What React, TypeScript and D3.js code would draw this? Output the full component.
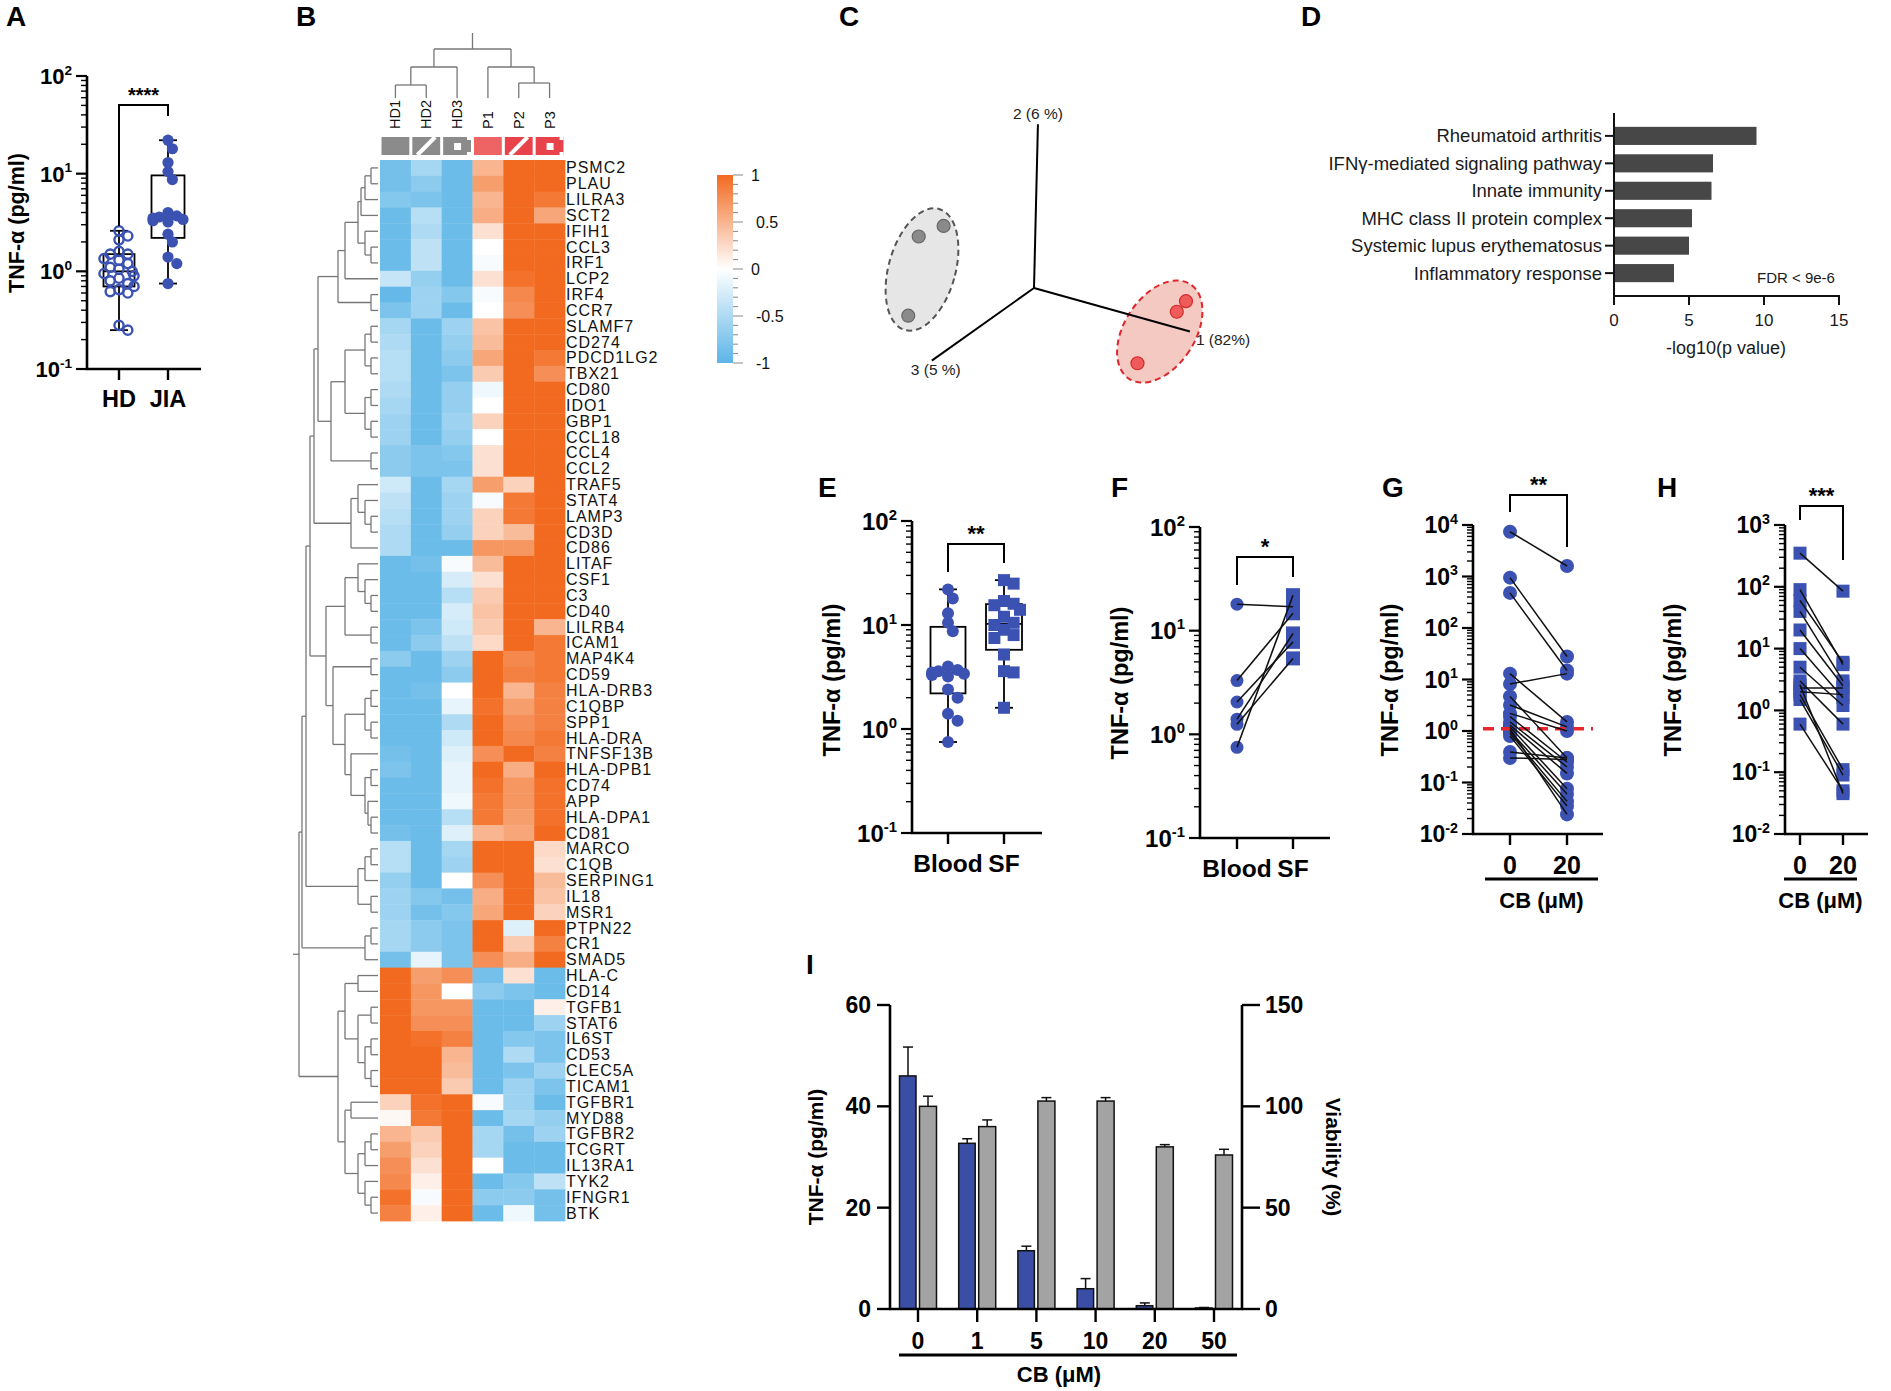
import React from "react";
import * as d3 from "d3";

const FONT = "'Liberation Sans', Arial, Helvetica, sans-serif";
const BLUE = "#3b52b3";

// ---------- A / E : TNF-a levels ----------
const groupsA = ["HD", "JIA"];
const hdValues = [2.6, 2.3, 2.1, 1.6, 1.5, 1.5, 1.35, 1.3, 1.2, 1.1, 1.05, 1.0, 0.95, 0.9, 0.85, 0.8, 0.75, 0.7, 0.65, 0.62, 0.6, 0.28, 0.25];
const jiaValues = [22, 18, 13, 10.5, 8.7, 4.0, 3.7, 3.6, 3.5, 3.4, 3.3, 3.2, 2.4, 2.0, 1.4, 1.2, 0.75];
const groupsE = ["Blood", "SF"];
const bloodValues = [22, 18, 13, 10.5, 8.7, 4.0, 3.7, 3.6, 3.5, 3.4, 3.3, 3.2, 2.4, 2.0, 1.4, 1.2, 0.75];
const sfValues = [27, 25, 17, 16, 15.5, 14, 12, 10.5, 10, 9, 8, 7.5, 5.2, 3.6, 3.5, 1.6];

// ---------- F : paired blood / SF ----------
const pairedBlood = [18, 3.3, 2.05, 1.4, 1.25, 0.75];
const pairedSF = [17, 14.7, 7.8, 9.4, 5.4, 22];

// ---------- G / H : CB 0 vs 20 uM ----------
const doseGroups = ["0", "20"];
const g0 = [7400, 950, 480, 8.2, 13, 3.2, 4.7, 1.9, 1.5, 1.3, 1.2, 1.0, 0.9, 0.8, 1.1, 0.39, 0.3, 2.2];
const g20 = [1600, 28, 15, 13, 1.5, 1.2, 0.3, 0.25, 0.2, 0.15, 0.076, 0.06, 0.043, 0.035, 0.024, 0.3, 0.28, 1.0];
const gThreshold = 1.1;
const h0 = [350, 90, 60, 40, 20, 10, 5, 3, 2.3, 2, 1.8, 1.5, 0.6, 2.6];
const h20 = [85, 5.5, 6, 3, 2.5, 1.6, 1.2, 0.6, 2.3, 1.8, 0.11, 0.09, 0.05, 0.045];

// ---------- I : dose response ----------
const doses = ["0", "1", "5", "10", "20", "50"];
const tnfMean = [46, 32.7, 11.5, 4.0, 0.65, 0.2];
const tnfSem = [5.7, 0.9, 0.9, 2.0, 0.55, 0.1];
const viabMean = [100, 90, 102.6, 102.6, 80, 76];
const viabSem = [5, 3.3, 1.7, 1.7, 1.1, 2.8];

// ---------- D : enrichment ----------
const terms = ["Rheumatoid arthritis", "IFNγ-mediated signaling pathway", "Innate immunity", "MHC class II protein complex", "Systemic lupus erythematosus", "Inflammatory response"];
const termValues = [9.5, 6.6, 6.5, 5.2, 5.0, 4.0];

// ---------- B : heatmap ----------
const samples = ["HD1", "HD2", "HD3", "P1", "P2", "P3"];
const genes = ["PSMC2", "PLAU", "LILRA3", "SCT2", "IFIH1", "CCL3", "IRF1", "LCP2", "IRF4", "CCR7", "SLAMF7", "CD274", "PDCD1LG2", "TBX21", "CD80", "IDO1", "GBP1", "CCL18", "CCL4", "CCL2", "TRAF5", "STAT4", "LAMP3", "CD3D", "CD86", "LITAF", "CSF1", "C3", "CD40", "LILRB4", "ICAM1", "MAP4K4", "CD59", "HLA-DRB3", "C1QBP", "SPP1", "HLA-DRA", "TNFSF13B", "HLA-DPB1", "CD74", "APP", "HLA-DPA1", "CD81", "MARCO", "C1QB", "SERPING1", "IL18", "MSR1", "PTPN22", "CR1", "SMAD5", "HLA-C", "CD14", "TGFB1", "STAT6", "IL6ST", "CD53", "CLEC5A", "TICAM1", "TGFBR1", "MYD88", "TGFBR2", "TCGRT", "IL13RA1", "TYK2", "IFNGR1", "BTK"];
const heatValues = [
  [-0.85, -0.55, -0.9, 0.5, 1, 1],
  [-0.85, -0.7, -0.9, 0.65, 1, 1],
  [-0.75, -0.8, -0.9, 0.5, 1, 0.9],
  [-0.9, -0.45, -0.9, 0.55, 1, 0.6],
  [-0.9, -0.5, -0.9, 0.2, 1, 1],
  [-0.9, -0.4, -0.9, 0.0, 1, 1],
  [-0.9, -0.4, -0.9, -0.05, 1, 1],
  [-0.35, -0.65, -0.9, 0.2, 0.95, 1],
  [-0.95, -0.6, -0.75, -0.05, 0.8, 1],
  [-0.8, -0.6, -0.9, 0.0, 0.75, 1],
  [-0.55, -0.9, -0.6, 0.4, 1, 1],
  [-0.5, -0.9, -0.65, 0.45, 1, 1],
  [-0.45, -0.9, -0.7, 0.6, 1, 0.9],
  [-0.45, -0.9, -0.8, 0.35, 1, 0.75],
  [-0.5, -0.9, -0.65, -0.1, 1, 1],
  [-0.55, -0.9, -0.65, 0.0, 1, 1],
  [-0.6, -0.9, -0.6, 0.3, 1, 1],
  [-0.6, -0.9, -0.65, 0.0, 1, 1],
  [-0.7, -0.8, -0.75, 0.2, 1, 1],
  [-0.7, -0.8, -0.8, 0.2, 1, 1],
  [-0.3, -0.9, -0.55, 0.65, 0.3, 1],
  [-0.4, -0.9, -0.6, -0.05, 0.9, 1],
  [-0.45, -0.9, -0.6, 0.3, 0.9, 1],
  [-0.5, -0.9, -0.65, 0.3, 0.45, 1],
  [-0.5, -0.9, -0.9, 0.7, 0.7, 1],
  [-0.9, -0.85, -0.05, 0.45, 1, 1],
  [-0.9, -0.9, -0.25, 0.2, 1, 1],
  [-0.9, -0.9, -0.45, 0.35, 1, 1],
  [-0.9, -0.9, -0.25, 0.4, 1, 1],
  [-0.9, -0.8, -0.3, 0.35, 1, 0.5],
  [-0.9, -0.7, -0.4, 0.25, 1, 0.9],
  [-0.7, -0.9, -0.6, 1, 0.8, 0.9],
  [-0.9, -0.9, -0.7, 1, 0.85, 0.9],
  [-0.9, -0.85, 0.0, 1, 0.5, 0.85],
  [-0.9, -0.9, -0.15, 0.95, 0.65, 0.85],
  [-0.9, -0.9, -0.5, 1, 0.75, 0.85],
  [-0.9, -0.9, -0.3, 1, 0.8, 0.9],
  [-0.85, -0.9, -0.2, 0.75, 1, 0.85],
  [-0.8, -0.9, -0.15, 1, 0.55, 1],
  [-0.9, -0.9, -0.15, 0.95, 0.7, 0.95],
  [-0.9, -0.9, -0.1, 0.9, 0.7, 0.95],
  [-0.9, -0.9, -0.45, 0.9, 0.65, 0.95],
  [-0.85, -0.9, -0.2, 0.5, 0.6, 1],
  [-0.45, -0.9, -0.55, 1, 1, 0.25],
  [-0.45, -0.9, -0.6, 1, 1, 0.2],
  [-0.65, -0.9, 0.0, 0.75, 1, 0.45],
  [-0.6, -0.75, -0.85, 0.55, 1, 0.4],
  [-0.6, -0.85, -0.75, 0.6, 1, 0.3],
  [-0.55, -0.7, -0.8, 1, -0.2, 1],
  [-0.55, -0.7, -0.8, 1, 0.35, 0.85],
  [-0.85, -0.15, -0.8, 0.75, 0.55, 1],
  [1, 0.65, 0.75, -0.85, 0.2, -0.9],
  [1, 0.7, 0.0, -0.7, -0.8, -0.9],
  [1, 0.7, 0.7, -0.9, -0.9, 0.1],
  [1, 0.75, 0.75, -0.9, -0.9, -0.6],
  [1, 0.95, 0.85, -0.9, -0.75, -0.8],
  [1, 1, 0.5, -0.9, -0.5, -0.8],
  [1, 1, 0.45, -0.9, -0.8, -0.6],
  [1, 1, 0.35, -0.9, -0.6, -0.8],
  [0.3, 0.95, 1, -0.05, -0.6, -0.9],
  [0.05, 0.9, 1, -0.9, -0.55, -0.65],
  [0.5, 0.35, 1, -0.55, -0.85, -0.6],
  [0.65, 0.3, 1, -0.55, -0.9, -0.9],
  [0.75, 0.2, 1, 0.0, -0.9, -0.9],
  [0.8, 0.1, 1, -0.9, -0.75, -0.4],
  [0.95, -0.05, 1, -0.7, -0.7, -0.85],
  [0.85, 0.1, 1, -0.9, -0.1, -0.85],
];
// dendrograms: [height, left, right] or leaf name
const sampleTree: any = [49, [31, [13, "HD1", "HD2"], "HD3"], [31, "P1", [15, "P2", "P3"]]];
const geneTree: any = [79,
  [76,
    [72,
      [68,
        [64,
          [60,
            [40, [33, [20, [17, [13, [7, "PSMC2", "PLAU"], "LILRA3"], "SCT2"], [13, "IFIH1", [7, "CCL3", "IRF1"]]], "LCP2"], [7, "IRF4", "CCR7"]],
            [47, [33, [13, [7, "SLAMF7", "CD274"], [7, "PDCD1LG2", "TBX21"]], [13, [7, "CD80", "IDO1"], [7, "GBP1", "CCL18"]]], [7, "CCL4", "CCL2"]]],
          [27, [20, "TRAF5", [13, "STAT4", [7, "LAMP3", "CD3D"]]], "CD86"]],
        [52,
          [33, [20, "LITAF", [13, "CSF1", [7, "C3", "CD40"]]], [7, "LILRB4", "ICAM1"]],
          [45, [7, "MAP4K4", "CD59"], [33, [13, [7, "HLA-DRB3", "C1QBP"], [7, "SPP1", "HLA-DRA"]], [27, "TNFSF13B", [13, [7, "HLA-DPB1", "CD74"], [10, "APP", [7, "HLA-DPA1", "CD81"]]]]]]]],
      [20, [13, [7, "MARCO", "C1QB"], "SERPING1"], [7, "IL18", "MSR1"]]],
    [13, [7, "PTPN22", "CR1"], "SMAD5"]],
  [40,
    [33, [20, "HLA-C", "CD14"], [20, [7, "TGFB1", "STAT6"], [13, [7, "IL6ST", "CD53"], [7, "CLEC5A", "TICAM1"]]]],
    [33, [27, "TGFBR1", "MYD88"], [20, [13, [7, "TGFBR2", "TCGRT"], "IL13RA1"], [13, "TYK2", [7, "IFNGR1", "BTK"]]]]]];
const colorbarTicks = [1, 0.5, 0, -0.5, -1];

// ---------- C : PCA (projected scores) ----------
const pcaAxes = [
  { label: "1 (82%)", end: [1.19, -0.33] },
  { label: "2 (6 %)", end: [0.03, 1.24] },
  { label: "3 (5 %)", end: [-0.78, -0.55] },
];
const hdScores = [[-0.88, 0.39], [-0.69, 0.47], [-0.96, -0.21]];
const pScores = [[1.16, -0.1], [1.09, -0.18], [0.79, -0.57]];

// ---------- helpers ----------
function prismQuartiles(vals: number[]) {
  const s = [...vals].sort((a, b) => a - b);
  const n = s.length;
  const q = (p: number) => {
    const pos = (n + 1) * p - 1;
    const lo = Math.max(0, Math.min(n - 1, Math.floor(pos)));
    const hi = Math.max(0, Math.min(n - 1, Math.ceil(pos)));
    return s[lo] + (s[hi] - s[lo]) * (pos - Math.floor(pos));
  };
  return { min: s[0], q1: q(0.25), med: q(0.5), q3: q(0.75), max: s[n - 1] };
}

function swarm(vals: number[], y: (v: number) => number, cx: number, r: number, maxDx: number) {
  const placed: { x: number; y: number }[] = [];
  const pts = vals.map((v) => y(v)).sort((a, b) => a - b);
  for (const py of pts) {
    const cands = [0];
    for (let k = 1; k < 10; k++) cands.push(k * r * 0.8, -k * r * 0.8);
    let done = false;
    for (const dx of cands) {
      if (Math.abs(dx) > maxDx) continue;
      if (placed.every((q) => Math.hypot(q.x - (cx + dx), q.y - py) >= r * 1.6)) {
        placed.push({ x: cx + dx, y: py });
        done = true;
        break;
      }
    }
    if (!done) placed.push({ x: cx + (placed.length % 2 ? maxDx : -maxDx), y: py });
  }
  return placed;
}

function layoutTree(node: any, leafPos: (n: string) => number, segs: any[]): { pos: number; h: number } {
  if (typeof node === "string") return { pos: leafPos(node), h: 0 };
  const [h, a, b] = node;
  const ca = layoutTree(a, leafPos, segs);
  const cb = layoutTree(b, leafPos, segs);
  segs.push({ kind: "join", h, p1: ca.pos, p2: cb.pos });
  segs.push({ kind: "stem", p: ca.pos, h1: ca.h, h2: h });
  segs.push({ kind: "stem", p: cb.pos, h1: cb.h, h2: h });
  return { pos: (ca.pos + cb.pos) / 2, h };
}

const Letter = ({ x, y, t }: any) => (
  <text x={x} y={y} fontSize={28} fontWeight="bold" fill="#000">{t}</text>
);

function LogAxis({ y, axisX, xEnd, e0, e1, fs }: any) {
  const yb = y(10 ** e0), yt = y(10 ** e1);
  const minor: number[] = [];
  for (let e = e0; e < e1; e++) for (let k = 2; k <= 9; k++) minor.push(k * 10 ** e);
  return (
    <g stroke="#000">
      {minor.map((v, i) => (
        <line key={"m" + i} x1={axisX - 6} x2={axisX} y1={y(v)} y2={y(v)} strokeWidth={1.4} />
      ))}
      {d3.range(e0, e1 + 1).map((e) => (
        <g key={"M" + e}>
          <line x1={axisX - 11} x2={axisX} y1={y(10 ** e)} y2={y(10 ** e)} strokeWidth={2.2} />
          <text x={axisX - 15} y={y(10 ** e) + fs * 0.36} textAnchor="end" fontSize={fs} fontWeight="bold" stroke="none" fill="#000">
            10<tspan fontSize={fs * 0.62} dy={-fs * 0.42}>{e}</tspan>
          </text>
        </g>
      ))}
      <line x1={axisX} x2={axisX} y1={yb + 1} y2={yt} strokeWidth={2.6} />
      <line x1={axisX - 1} x2={xEnd} y1={yb} y2={yb} strokeWidth={2.6} />
    </g>
  );
}

function XCats({ x, cats, yb, fs, labelY }: any) {
  return (
    <g>
      {cats.map((c: string) => (
        <g key={c}>
          <line x1={x(c)} x2={x(c)} y1={yb} y2={yb + 11} stroke="#000" strokeWidth={2.4} />
          <text x={x(c)} y={labelY} textAnchor="middle" dominantBaseline="central" fontSize={fs} fontWeight="bold">{c}</text>
        </g>
      ))}
    </g>
  );
}

function YLabel({ x, y, t, fs, rot = -90 }: any) {
  return (
    <text transform={`translate(${x},${y}) rotate(${rot})`} textAnchor="middle" dominantBaseline="central" fontSize={fs} fontWeight="bold">{t}</text>
  );
}

function Bracket({ x1, x2, top, yl, yr, label, fs = 21 }: any) {
  return (
    <g>
      <path d={`M${x1},${yl}V${top}H${x2}V${yr}`} fill="none" stroke="#000" strokeWidth={2} />
      <text x={(x1 + x2) / 2} y={top - 3} textAnchor="middle" fontSize={fs} fontWeight="bold">{label}</text>
    </g>
  );
}

function BoxPlot({ vals, y, cx, w }: any) {
  const b = prismQuartiles(vals);
  return (
    <g fill="none" stroke="#000" strokeWidth={1.8}>
      <line x1={cx} x2={cx} y1={y(b.max)} y2={y(b.q3)} />
      <line x1={cx} x2={cx} y1={y(b.q1)} y2={y(b.min)} />
      <line x1={cx - 9} x2={cx + 9} y1={y(b.max)} y2={y(b.max)} />
      <line x1={cx - 9} x2={cx + 9} y1={y(b.min)} y2={y(b.min)} />
      <rect x={cx - w / 2} y={y(b.q3)} width={w} height={y(b.q1) - y(b.q3)} />
      <line x1={cx - w / 2} x2={cx + w / 2} y1={y(b.med)} y2={y(b.med)} />
    </g>
  );
}

// ---------- panels ----------
function PanelA() {
  const y = d3.scaleLog().domain([0.1, 100]).range([369, 76]);
  const x = d3.scalePoint().domain(groupsA).range([119, 168]);
  const hd = swarm(hdValues, y, x("HD")!, 5.5, 15);
  const jia = swarm(jiaValues, y, x("JIA")!, 5.5, 15);
  return (
    <g>
      <Letter x={6} y={26} t="A" />
      <BoxPlot vals={hdValues} y={y} cx={x("HD")} w={31} />
      <BoxPlot vals={jiaValues} y={y} cx={x("JIA")} w={33} />
      {hd.map((p, i) => <circle key={i} cx={p.x} cy={p.y} r={4.6} fill="none" stroke={BLUE} strokeWidth={2.4} />)}
      {jia.map((p, i) => <circle key={i} cx={p.x} cy={p.y} r={5.6} fill={BLUE} />)}
      <LogAxis y={y} axisX={87} xEnd={201} e0={-1} e1={2} fs={22} />
      <XCats x={x} cats={groupsA} yb={369} fs={23.5} labelY={399} />
      <YLabel x={17} y={223} t="TNF-α (pg/ml)" fs={21.5} />
      <Bracket x1={x("HD")} x2={x("JIA")} top={105} yl={226} yr={116} label="****" fs={20} />
    </g>
  );
}

function PanelB() {
  const xb = d3.scaleBand().domain(samples).range([380, 565]);
  const yb = d3.scaleBand().domain(genes).range([160, 1221]);
  const color = d3.scaleLinear<string>().domain([-1, 0, 1]).range(["#5cb5e7", "#ffffff", "#f26a1f"]).clamp(true);
  const rowSegs: any[] = [];
  const rowRoot = layoutTree(geneTree, (g) => yb(g)! + yb.bandwidth() / 2, rowSegs);
  const hx = d3.scaleLinear().domain([0, 85]).range([378, 293]);
  const colSegs: any[] = [];
  const colRoot = layoutTree(sampleTree, (s) => xb(s)! + xb.bandwidth() / 2, colSegs);
  const hy = d3.scaleLinear().domain([0, 65]).range([98, 33]);
  const annColors = ["#8b8b8b", "#8b8b8b", "#8b8b8b", "#ee6363", "#e8434b", "#e8434b"];
  const cb = d3.scaleLinear().domain([-1, 1]).range([363, 175]);
  return (
    <g>
      <Letter x={296} y={26} t="B" />
      {/* column dendrogram */}
      <g stroke="#777" strokeWidth={1.3} fill="none">
        {colSegs.map((s, i) =>
          s.kind === "join" ? (
            <line key={i} x1={s.p1} x2={s.p2} y1={hy(s.h)} y2={hy(s.h)} />
          ) : (
            <line key={i} x1={s.p} x2={s.p} y1={hy(s.h1)} y2={hy(s.h2)} />
          )
        )}
        <line x1={colRoot.pos} x2={colRoot.pos} y1={hy(colRoot.h)} y2={hy(65)} />
      </g>
      {samples.map((s) => (
        <text key={s} transform={`translate(${xb(s)! + xb.bandwidth() / 2},129) rotate(-90)`} dominantBaseline="central" fontSize={14.5} fill="#111">{s}</text>
      ))}
      {/* annotation bar */}
      {samples.map((s, i) => {
        const x0 = xb(s)! + 1.5, w = xb.bandwidth() - 3, y0 = 137, h = 18;
        return (
          <g key={s}>
            <rect x={x0} y={y0} width={w} height={h} fill={annColors[i]} />
            {i % 3 === 1 && <line x1={x0 + 5} y1={y0 + h} x2={x0 + w - 5} y2={y0} stroke="#fff" strokeWidth={4} />}
            {i % 3 === 2 && (
              <g fill="#fff">
                <rect x={x0 + w / 2 - 3} y={y0 + h / 2 - 3} width={7} height={7} />
                <rect x={x0 + w - 4} y={y0} width={4} height={3} />
                <rect x={x0 + w - 4} y={y0 + h - 3} width={4} height={3} />
              </g>
            )}
          </g>
        );
      })}
      {/* heat cells */}
      {genes.map((g, r) =>
        samples.map((s, c) => (
          <rect key={g + s} x={xb(s)} y={yb(g)} width={xb.bandwidth() + 0.4} height={yb.bandwidth() + 0.4} fill={color(heatValues[r][c])} />
        ))
      )}
      {genes.map((g) => (
        <text key={g} x={566} y={yb(g)! + yb.bandwidth() / 2} dominantBaseline="central" fontSize={16} letterSpacing={1} fill="#111">{g}</text>
      ))}
      {/* row dendrogram */}
      <g stroke="#777" strokeWidth={1.3} fill="none">
        {rowSegs.map((s, i) =>
          s.kind === "join" ? (
            <line key={i} x1={hx(s.h)} x2={hx(s.h)} y1={s.p1} y2={s.p2} />
          ) : (
            <line key={i} x1={hx(s.h1)} x2={hx(s.h2)} y1={s.p} y2={s.p} />
          )
        )}
        <line x1={hx(rowRoot.h)} x2={hx(85)} y1={rowRoot.pos} y2={rowRoot.pos} />
      </g>
      {/* colour key */}
      <defs>
        <linearGradient id="cbar" x1="0" y1="1" x2="0" y2="0">
          <stop offset="0%" stopColor={color(-1)} />
          <stop offset="50%" stopColor={color(0)} />
          <stop offset="100%" stopColor={color(1)} />
        </linearGradient>
      </defs>
      <rect x={717} y={175} width={16} height={188} fill="url(#cbar)" />
      {d3.range(-1, 1.0001, 0.1).map((v, i) => (
        <line key={i} x1={733} x2={Math.abs(Math.round(v * 10)) % 5 === 0 ? 743 : 738} y1={cb(v)} y2={cb(v)} stroke="#888" strokeWidth={1} />
      ))}
      {colorbarTicks.map((v) => (
        <text key={v} x={v === 0 || v === 1 ? 751 : 756} y={cb(v)} dominantBaseline="central" fontSize={16} fill="#111">{v}</text>
      ))}
    </g>
  );
}

function PanelC() {
  const px = d3.scaleLinear().domain([-1, 1]).range([903, 1165]);
  const py = d3.scaleLinear().domain([-1, 1]).range([420, 156]);
  const ox = px(0), oy = py(0);
  const ell = (c: number[], a: number, b: number, ang: number, fill: string, stroke: string) => (
    <ellipse cx={px(c[0])} cy={py(c[1])} rx={px(b) - px(0)} ry={px(a) - px(0)} transform={`rotate(${ang},${px(c[0])},${py(c[1])})`} fill={fill} stroke={stroke} strokeWidth={2} strokeDasharray="6,4" />
  );
  return (
    <g>
      <Letter x={839} y={26} t="C" />
      {ell([-0.855, 0.14], 0.48, 0.255, 15.7, "#e6e6e6", "#555")}
      {ell([0.96, -0.33], 0.43, 0.27, 33, "#f4c9c2", "#e0252b")}
      {pcaAxes.map((a) => (
        <line key={a.label} x1={ox} y1={oy} x2={px(a.end[0])} y2={py(a.end[1])} stroke="#000" strokeWidth={2} />
      ))}
      <text x={px(pcaAxes[1].end[0])} y={py(pcaAxes[1].end[1]) - 5} textAnchor="middle" fontSize={15.5} fill="#222">{pcaAxes[1].label}</text>
      <text x={px(pcaAxes[0].end[0]) + 6} y={py(pcaAxes[0].end[1]) + 13} fontSize={15.5} fill="#222">{pcaAxes[0].label}</text>
      <text x={px(pcaAxes[2].end[0]) - 21} y={py(pcaAxes[2].end[1]) + 14} fontSize={15.5} fill="#222">{pcaAxes[2].label}</text>
      {hdScores.map((s, i) => <circle key={i} cx={px(s[0])} cy={py(s[1])} r={6.5} fill="#8a8a8a" stroke="#666" strokeWidth={1.2} />)}
      {pScores.map((s, i) => <circle key={i} cx={px(s[0])} cy={py(s[1])} r={6.5} fill="#ef5a5a" stroke="#d42a2a" strokeWidth={1.2} />)}
    </g>
  );
}

function PanelD() {
  const x = d3.scaleLinear().domain([0, 15]).range([1614, 1839]);
  const y = d3.scaleBand().domain(terms).range([117.5, 291.5]).padding(0.34);
  return (
    <g>
      <Letter x={1301} y={26} t="D" />
      {terms.map((t, i) => (
        <g key={t}>
          <rect x={x(0)} y={y(t)} width={x(termValues[i]) - x(0)} height={y.bandwidth()} fill="#474747" />
          <line x1={x(0) - 9} x2={x(0)} y1={y(t)! + y.bandwidth() / 2} y2={y(t)! + y.bandwidth() / 2} stroke="#111" strokeWidth={2} />
          <text x={x(0) - 12} y={y(t)! + y.bandwidth() / 2} textAnchor="end" dominantBaseline="central" fontSize={18.5} fill="#1a1a1a">{t}</text>
        </g>
      ))}
      <line x1={x(0)} x2={x(0)} y1={113} y2={297} stroke="#111" strokeWidth={2} />
      <line x1={x(0) - 1} x2={x(15) + 1} y1={296} y2={296} stroke="#111" strokeWidth={2} />
      {x.ticks(3).map((t) => (
        <g key={t}>
          <line x1={x(t)} x2={x(t)} y1={296} y2={305} stroke="#111" strokeWidth={2} />
          <text x={x(t)} y={320} textAnchor="middle" dominantBaseline="central" fontSize={17} fill="#1a1a1a">{t}</text>
        </g>
      ))}
      <text x={1726} y={348} textAnchor="middle" dominantBaseline="central" fontSize={18} fill="#1a1a1a">-log10(p value)</text>
      <text x={1757} y={283} fontSize={15} fill="#1a1a1a">FDR &lt; 9e-6</text>
    </g>
  );
}

function PanelE() {
  const y = d3.scaleLog().domain([0.1, 100]).range([833, 521]);
  const x = d3.scalePoint().domain(groupsE).range([948, 1004]);
  const bl = swarm(bloodValues, y, x("Blood")!, 6, 16);
  const sf = swarm(sfValues, y, x("SF")!, 6, 16);
  return (
    <g>
      <Letter x={818} y={497} t="E" />
      <BoxPlot vals={bloodValues} y={y} cx={x("Blood")} w={35} />
      <BoxPlot vals={sfValues} y={y} cx={x("SF")} w={36} />
      {bl.map((p, i) => <circle key={i} cx={p.x} cy={p.y} r={6} fill={BLUE} />)}
      {sf.map((p, i) => <rect key={i} x={p.x - 6} y={p.y - 6} width={12} height={12} fill={BLUE} />)}
      <LogAxis y={y} axisX={912} xEnd={1042} e0={-1} e1={2} fs={24} />
      <XCats x={x} cats={groupsE} yb={833} fs={24.5} labelY={863} />
      <YLabel x={832} y={680} t="TNF-α (pg/ml)" fs={23.5} />
      <Bracket x1={x("Blood")} x2={x("SF")} top={544} yl={572} yr={563} label="**" fs={22} />
    </g>
  );
}

function PanelF() {
  const y = d3.scaleLog().domain([0.1, 100]).range([838, 527]);
  const x = d3.scalePoint().domain(groupsE).range([1237, 1293]);
  return (
    <g>
      <Letter x={1111} y={497} t="F" />
      {pairedBlood.map((v, i) => <circle key={i} cx={x("Blood")} cy={y(v)} r={6.5} fill={BLUE} />)}
      {pairedSF.map((v, i) => <rect key={i} x={x("SF")! - 7} y={y(v) - 7} width={14} height={14} fill={BLUE} />)}
      {pairedBlood.map((v, i) => (
        <line key={i} x1={x("Blood")} y1={y(v)} x2={x("SF")} y2={y(pairedSF[i])} stroke="#111" strokeWidth={1.6} />
      ))}
      <LogAxis y={y} axisX={1200} xEnd={1330} e0={-1} e1={2} fs={24} />
      <XCats x={x} cats={groupsE} yb={838} fs={24.5} labelY={868} />
      <YLabel x={1120} y={683} t="TNF-α (pg/ml)" fs={23.5} />
      <Bracket x1={x("Blood")} x2={x("SF")} top={557} yl={585} yr={577} label="*" fs={22} />
    </g>
  );
}

function PairedDose({ letter, lx, a, b, y, x, axisX, xEnd, e0, e1, ylx, square, bracket, stars, underline, threshold }: any) {
  const yb = y(10 ** e0);
  return (
    <g>
      <Letter x={lx} y={497} t={letter} />
      {[a, b].map((vals: number[], k: number) =>
        vals.map((v, i) =>
          square ? (
            <rect key={k + "-" + i} x={x(doseGroups[k]) - 6.5} y={y(v) - 6.5} width={13} height={13} fill={BLUE} />
          ) : (
            <circle key={k + "-" + i} cx={x(doseGroups[k])} cy={y(v)} r={7} fill={BLUE} />
          )
        )
      )}
      {threshold !== undefined && (
        <line x1={underline[0] - 2} x2={underline[1] - 5} y1={y(threshold)} y2={y(threshold)} stroke="#e8262b" strokeWidth={3.5} strokeDasharray="11,7" />
      )}
      {a.map((v: number, i: number) => (
        <line key={i} x1={x("0")} y1={y(v)} x2={x("20")} y2={y(b[i])} stroke="#111" strokeWidth={1.5} />
      ))}
      <LogAxis y={y} axisX={axisX} xEnd={xEnd} e0={e0} e1={e1} fs={23} />
      <XCats x={x} cats={doseGroups} yb={yb} fs={25} labelY={865} />
      <line x1={underline[0]} x2={underline[1]} y1={879} y2={879} stroke="#000" strokeWidth={3} />
      <text x={(underline[0] + underline[1]) / 2} y={900} textAnchor="middle" dominantBaseline="central" fontSize={22} fontWeight="bold">CB (μM)</text>
      <YLabel x={ylx} y={680} t="TNF-α (pg/ml)" fs={23.5} />
      <Bracket x1={x("0")} x2={x("20")} top={bracket[0]} yl={bracket[1]} yr={bracket[2]} label={stars} fs={22} />
    </g>
  );
}

function PanelG() {
  const y = d3.scaleLog().domain([0.01, 10000]).range([834, 525]);
  const x = d3.scalePoint().domain(doseGroups).range([1510, 1567]);
  return (
    <PairedDose letter="G" lx={1382} a={g0} b={g20} y={y} x={x} axisX={1473} xEnd={1603} e0={-2} e1={4} ylx={1390}
      square={false} bracket={[495, 512, 547]} stars="**" underline={[1485, 1598]} threshold={gThreshold} />
  );
}

function PanelH() {
  const y = d3.scaleLog().domain([0.01, 1000]).range([834, 525]);
  const x = d3.scalePoint().domain(doseGroups).range([1800, 1843]);
  return (
    <PairedDose letter="H" lx={1657} a={h0} b={h20} y={y} x={x} axisX={1785} xEnd={1868} e0={-2} e1={3} ylx={1673}
      square={true} bracket={[506, 520, 560]} stars="***" underline={[1784, 1857]} />
  );
}

function PanelI() {
  const x = d3.scalePoint().domain(doses).range([918, 1214]);
  const yl = d3.scaleLinear().domain([0, 60]).range([1309, 1005]);
  const yr = d3.scaleLinear().domain([0, 150]).range([1309, 1005]);
  return (
    <g>
      <Letter x={806} y={974} t="I" />
      {doses.map((d, i) => {
        const cx = x(d)!;
        return (
          <g key={d} stroke="#111" strokeWidth={1.5}>
            <line x1={cx - 10} x2={cx - 10} y1={yl(tnfMean[i])} y2={yl(tnfMean[i] + tnfSem[i])} />
            <line x1={cx - 15} x2={cx - 5} y1={yl(tnfMean[i] + tnfSem[i])} y2={yl(tnfMean[i] + tnfSem[i])} />
            <rect x={cx - 18.5} y={yl(tnfMean[i])} width={16.5} height={yl(0) - yl(tnfMean[i])} fill="#3a4ea6" />
            <line x1={cx + 10} x2={cx + 10} y1={yr(viabMean[i])} y2={yr(viabMean[i] + viabSem[i])} />
            <line x1={cx + 5} x2={cx + 15} y1={yr(viabMean[i] + viabSem[i])} y2={yr(viabMean[i] + viabSem[i])} />
            <rect x={cx + 1.5} y={yr(viabMean[i])} width={17} height={yr(0) - yr(viabMean[i])} fill="#a3a3a3" />
          </g>
        );
      })}
      <g stroke="#000" strokeWidth={2.6}>
        <line x1={890} x2={890} y1={1005} y2={1310} />
        <line x1={1242} x2={1242} y1={1005} y2={1310} />
        <line x1={889} x2={1243} y1={1309} y2={1309} />
      </g>
      {yl.ticks(3).map((t) => (
        <g key={t}>
          <line x1={877} x2={890} y1={yl(t)} y2={yl(t)} stroke="#000" strokeWidth={2.4} />
          <text x={871} y={yl(t)} textAnchor="end" dominantBaseline="central" fontSize={23} fontWeight="bold">{t}</text>
        </g>
      ))}
      {yr.ticks(3).map((t) => (
        <g key={t}>
          <line x1={1242} x2={1260} y1={yr(t)} y2={yr(t)} stroke="#000" strokeWidth={2.4} />
          <text x={1265} y={yr(t)} dominantBaseline="central" fontSize={23} fontWeight="bold">{t}</text>
        </g>
      ))}
      {doses.map((d) => (
        <g key={d}>
          <line x1={x(d)} x2={x(d)} y1={1309} y2={1322} stroke="#000" strokeWidth={2.4} />
          <text x={x(d)} y={1341} textAnchor="middle" dominantBaseline="central" fontSize={23} fontWeight="bold">{d}</text>
        </g>
      ))}
      <line x1={899} x2={1237} y1={1355} y2={1355} stroke="#000" strokeWidth={3} />
      <text x={1059} y={1374} textAnchor="middle" dominantBaseline="central" fontSize={22} fontWeight="bold">CB (μM)</text>
      <YLabel x={815} y={1157} t="TNF-α (pg/ml)" fs={21} />
      <YLabel x={1333} y={1157} t="Viability (%)" fs={21} rot={90} />
    </g>
  );
}

export default function App() {
  return (
    <svg width={1891} height={1391} viewBox="0 0 1891 1391" fontFamily={FONT}
      style={{ position: "absolute", left: 0, top: 0, background: "#fff", display: "block" }}>
      <rect width={1891} height={1391} fill="#fff" />
      <PanelA />
      <PanelB />
      <PanelC />
      <PanelD />
      <PanelE />
      <PanelF />
      <PanelG />
      <PanelH />
      <PanelI />
    </svg>
  );
}
